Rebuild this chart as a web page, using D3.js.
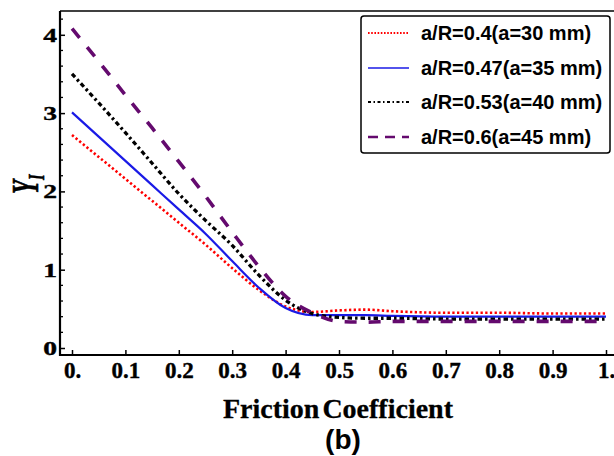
<!DOCTYPE html>
<html><head><meta charset="utf-8">
<script src="https://cdn.jsdelivr.net/npm/d3@7"></script>
<style>html,body{margin:0;padding:0;background:#fff;}svg{display:block;}</style>
</head><body><svg id="c" width="614" height="456"></svg>
<script>
const mu = [0,0.05,0.1,0.15,0.2,0.25,0.3,0.35,0.4,0.45,0.5,0.55,0.6,0.7,0.8,0.9,1.0];
const yR04 = [2.72,2.44,2.16,1.88,1.60,1.32,1.02,0.74,0.53,0.46,0.48,0.49,0.47,0.45,0.45,0.44,0.44];
const yR047 = [3.01,2.70,2.39,2.08,1.77,1.46,1.11,0.77,0.51,0.42,0.42,0.42,0.41,0.40,0.40,0.40,0.40];
const yR053 = [3.50,3.13,2.75,2.36,1.97,1.63,1.31,0.93,0.61,0.44,0.39,0.38,0.38,0.37,0.37,0.37,0.37];
const yR06 = [4.08,3.66,3.23,2.81,2.38,1.94,1.48,1.04,0.66,0.45,0.34,0.33,0.34,0.34,0.34,0.34,0.34];
const seriesNames = ["a/R=0.4(a=30 mm)","a/R=0.47(a=35 mm)","a/R=0.53(a=40 mm)","a/R=0.6(a=45 mm)"];
const xTicks = [0,0.1,0.2,0.3,0.4,0.5,0.6,0.7,0.8,0.9,1.0];
const xTickLabels = ["0.","0.1","0.2","0.3","0.4","0.5","0.6","0.7","0.8","0.9","1."];
const yTicks = [0,1,2,3,4];
const yTickLabels = ["0","1","2","3","4"];

const styles = [
  {color:"#ff0000", width:2.6, dash:"2.3,2.4", lw:2, ldash:"1.6,1.6"},
  {color:"#1a1ae6", width:2.2, dash:null, lw:1.6, ldash:null},
  {color:"#000000", width:3.3, dash:"4.5,3,2.5,3", lw:1.8, ldash:"3,2.5,1.5,2.5"},
  {color:"#640a6e", width:3.6, dash:"12,12", lw:2.4, ldash:"10,7"}
];
const data = [yR04,yR047,yR053,yR06];

const svg = d3.select("#c");
const x = d3.scaleLinear().domain([0,1]).range([72,606]);
const y = d3.scaleLinear().domain([0,4]).range([348,34.8]);
const x0 = 60, yb = 355, yt = 11;
const serif = "'Liberation Serif','Times New Roman',serif";
const sans = "'Liberation Sans',Arial,sans-serif";

svg.append("line").attr("x1",x0).attr("x2",620).attr("y1",yt).attr("y2",yt).attr("stroke","#000").attr("stroke-width",1.6);

const g = svg.append("g");
data.forEach((vals,i)=>{
  const pts = mu.map((m,j)=>[m,vals[j]]);
  const line = d3.line().x(d=>x(d[0])).y(d=>y(d[1])).curve(d3.curveMonotoneX);
  const p = g.append("path").attr("d",line(pts)).attr("fill","none")
    .attr("stroke",styles[i].color).attr("stroke-width",styles[i].width);
  if(styles[i].dash) p.attr("stroke-dasharray",styles[i].dash);
});

const xAxis = d3.axisBottom(x).tickValues(xTicks).tickSize(-5).tickFormat((d,i)=>xTickLabels[i]).tickPadding(10);
const gx = svg.append("g").attr("transform",`translate(0,${yb})`).call(xAxis);
gx.select(".domain").remove();
gx.selectAll(".tick line").attr("stroke","#000").attr("stroke-width",1.5);
gx.selectAll(".tick text").attr("font-family",serif).attr("font-weight","bold").attr("font-size",23).attr("fill","#000")
  .attr("dy",null).attr("y",23).attr("stroke","#000").attr("stroke-width",0.4);
svg.append("line").attr("x1",x0).attr("x2",620).attr("y1",yb).attr("y2",yb).attr("stroke","#000").attr("stroke-width",2.2);

const minor = d3.range(0,4.21,0.2).filter(v=>Math.abs(v-Math.round(v))>1e-6);
svg.append("g").selectAll("line").data(minor).join("line")
  .attr("x1",x0).attr("x2",x0+3).attr("y1",d=>y(d)).attr("y2",d=>y(d)).attr("stroke","#000").attr("stroke-width",1.3);
const yAxis = d3.axisLeft(y).tickValues(yTicks).tickSize(-5).tickFormat((d,i)=>yTickLabels[i]).tickPadding(0);
const gy = svg.append("g").attr("transform",`translate(${x0},0)`).call(yAxis);
gy.select(".domain").remove();
gy.selectAll(".tick line").attr("stroke","#000").attr("stroke-width",1.5);
gy.selectAll(".tick text").attr("font-family",serif).attr("font-weight","bold").attr("font-size",19).attr("fill","#000")
  .attr("x",null).attr("dy",null).attr("text-anchor","end").attr("stroke","#000").attr("stroke-width",0.4)
  .attr("transform","translate(-3,6.5) scale(1.45,1)");
svg.append("line").attr("x1",x0).attr("x2",x0).attr("y1",yt).attr("y2",yb+1).attr("stroke","#000").attr("stroke-width",2.2);

svg.append("text").attr("x",338).attr("y",418).attr("text-anchor","middle")
  .attr("font-family",serif).attr("font-weight","bold").attr("font-size",28)
  .attr("word-spacing","-4px").attr("fill","#000").attr("stroke","#000").attr("stroke-width",0.3).text("Friction Coefficient");
svg.append("text").attr("x",343).attr("y",449).attr("text-anchor","middle")
  .attr("font-family",sans).attr("font-weight","bold").attr("font-size",28)
  .attr("fill","#000").text("(b)");
const yl = svg.append("text").attr("transform","translate(38,194) rotate(-90) scale(0.62,1)")
  .attr("font-family",serif).attr("font-weight","bold").attr("font-style","italic")
  .attr("font-size",37).attr("fill","#000").attr("stroke","#000").attr("stroke-width",0.6);
yl.append("tspan").text("Y");
yl.append("tspan").attr("font-size",23).attr("dy",6).text("I");

const lg = svg.append("g");
lg.append("rect").attr("x",361).attr("y",16).attr("width",249).attr("height",137).attr("rx",3)
  .attr("fill","#fff").attr("stroke","#000").attr("stroke-width",1.5);
const rowY = [33,68,102,137];
seriesNames.forEach((nm,i)=>{
  const l = lg.append("line").attr("x1",368).attr("x2",409).attr("y1",rowY[i]).attr("y2",rowY[i])
    .attr("stroke",styles[i].color).attr("stroke-width",styles[i].lw);
  if(styles[i].ldash) l.attr("stroke-dasharray",styles[i].ldash);
  lg.append("text").attr("x",421).attr("y",rowY[i]+6.5).attr("font-family",sans)
    .attr("font-weight","bold").attr("font-size",20).attr("letter-spacing","0px").attr("fill","#000").text(nm);
});
</script></body></html>
